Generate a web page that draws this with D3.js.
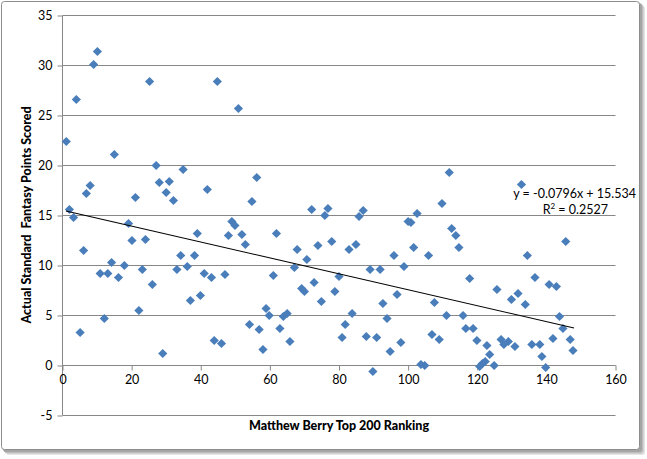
<!DOCTYPE html>
<html><head><meta charset="utf-8">
<script src="https://cdn.jsdelivr.net/npm/d3@7"></script>
<style>
html,body{margin:0;padding:0;background:#fff;}
svg{display:block;}
text{font-family:Lato, "Liberation Sans", sans-serif;}
</style></head>
<body><svg id="c" width="647" height="459"></svg>
<script>
// ---- data ----
const ranks = [1.1,2.0,3.2,4.0,5.1,6.1,6.9,8.0,9.0,10.1,10.9,12.1,13.1,14.2,15.0,16.2,17.9,19.1,20.1,21.1,22.1,23.1,24.0,25.2,26.0,27.1,28.0,29.0,30.0,30.9,32.1,33.1,34.2,34.9,36.1,37.0,38.2,39.0,39.9,41.0,41.9,43.1,43.9,44.8,46.0,47.0,48.0,49.0,49.9,50.9,51.9,52.9,54.1,54.8,56.2,56.9,58.0,58.9,59.8,61.0,61.9,62.9,63.9,65.0,65.8,67.1,67.9,69.2,70.0,70.7,72.1,72.8,73.9,74.9,75.9,76.8,77.9,78.8,80.0,80.9,81.8,82.9,83.8,84.9,85.8,87.0,87.9,89.0,89.8,90.9,91.9,92.7,93.9,94.8,95.9,96.8,97.9,98.8,100.0,100.8,101.6,102.6,103.7,104.8,105.9,106.9,107.6,109.0,109.8,111.1,111.9,112.6,113.8,114.7,115.9,116.7,117.8,118.8,119.9,120.7,121.5,122.3,122.8,123.6,124.9,125.7,126.9,127.7,129.0,129.9,130.9,131.8,132.8,133.9,134.5,135.8,136.7,138.1,138.7,139.8,140.8,141.9,142.9,143.8,144.8,145.6,146.9,147.7];
const points = [22.4,15.6,14.8,26.6,3.3,11.5,17.2,18.0,30.1,31.4,9.2,4.7,9.2,10.3,21.1,8.8,10.0,14.2,12.5,16.8,5.5,9.6,12.6,28.4,8.1,20.0,18.3,1.2,17.3,18.4,16.5,9.6,11.0,19.6,9.9,6.5,11.0,13.2,7.0,9.2,17.6,8.8,2.5,28.4,2.2,9.1,13.0,14.4,14.0,25.7,13.1,12.1,4.1,16.4,18.8,3.6,1.6,5.7,5.0,9.0,13.2,3.7,4.9,5.2,2.4,9.8,11.6,7.7,7.4,10.6,15.6,8.3,12.0,6.4,15.0,15.7,12.4,7.4,8.9,2.8,4.1,11.6,5.2,12.1,14.9,15.5,2.9,9.6,-0.6,2.8,9.6,6.2,4.7,1.4,11.0,7.1,2.3,9.9,14.4,14.3,11.8,15.2,0.1,0.0,11.0,3.1,6.3,2.6,16.2,5.0,19.3,13.7,13.0,11.8,5.0,3.7,8.7,3.7,2.5,-0.1,0.2,0.4,2.0,1.1,0.0,7.6,2.6,2.1,2.4,6.6,1.9,7.2,18.1,6.1,11.0,2.1,8.8,2.1,0.9,-0.2,8.1,2.7,7.9,4.9,3.7,12.4,2.6,1.5];
const xTicks = [0,20,40,60,80,100,120,140,160];
const yTicks = [-5,0,5,10,15,20,25,30,35];
const trendSlope = -0.0796, trendIntercept = 15.534;
const trendRange = [1,148];
const eqText = "y = -0.0796x + 15.534";
const r2Label = "0.2527";
const xTitle = "Matthew Berry Top 200 Ranking";
const yTitle = "Actual Standard  Fantasy Points Scored";

// ---- drawing ----
const svg = d3.select("#c");
// frame with shadow
const sh = svg.append("g");
[[5,"#e4e4e4"],[4,"#d2d2d2"],[3,"#bdbdbd"],[2,"#a5a5a5"]].forEach(([o,c])=>{
  sh.append("rect").attr("x",1+o).attr("y",1+o).attr("width",639).attr("height",449).attr("rx",3).attr("fill",c);
});
svg.append("rect").attr("x",1.5).attr("y",1.5).attr("width",638).attr("height",448).attr("rx",3)
  .attr("fill","#fff").attr("stroke","#8c8c8c").attr("stroke-width",1);

const x = d3.scaleLinear().domain([0,160]).range([62.5,615.5]);
const y = d3.scaleLinear().domain([-5,35]).range([415.5,15.5]);

// gridlines
svg.append("g").selectAll("line").data(yTicks).join("line")
  .attr("x1",x(0)).attr("x2",x(160)).attr("y1",d=>y(d)).attr("y2",d=>y(d))
  .attr("stroke","#878787").attr("stroke-width",1);

// y axis
const yAxis = d3.axisLeft(y).tickValues(yTicks).tickSize(5).tickPadding(5).tickFormat(d=>String(d));
const ya = svg.append("g").attr("transform",`translate(${x(0)},0)`).call(yAxis);
ya.select(".domain").attr("stroke","#878787").attr("d",`M0,${y(35)}V${y(-5)}`);
ya.selectAll(".tick line").attr("stroke","#878787");
ya.selectAll("text").attr("font-family","Lato, 'Liberation Sans', sans-serif").attr("font-size",12.5).attr("fill","#000");

// x axis at y=0
const xAxis = d3.axisBottom(x).tickValues(xTicks).tickSize(5).tickPadding(5).tickFormat(d=>String(d));
const xa = svg.append("g").attr("transform",`translate(0,${y(0)})`).call(xAxis);
xa.select(".domain").attr("stroke","#878787").attr("d",`M${x(0)},0H${x(160)}`);
xa.selectAll(".tick line").attr("stroke","#878787");
xa.selectAll("text").attr("font-family","Lato, 'Liberation Sans', sans-serif").attr("font-size",12.5).attr("fill","#000");

// points
const diamond = "M0,-4.6L4.6,0L0,4.6L-4.6,0Z";
svg.append("g").selectAll("path").data(ranks.map((r,i)=>[r,points[i]])).join("path")
  .attr("d",diamond).attr("transform",d=>`translate(${x(d[0])},${y(d[1])})`)
  .attr("fill","#4a7ebb");

// trendline
svg.append("line")
  .attr("x1",x(trendRange[0])).attr("y1",y(trendIntercept+trendSlope*trendRange[0]))
  .attr("x2",x(trendRange[1])).attr("y2",y(trendIntercept+trendSlope*trendRange[1]))
  .attr("stroke","#000").attr("stroke-width",1.1);

// equation
svg.append("text").attr("x",636).attr("y",198).attr("text-anchor","end")
  .attr("font-size",12.5).text(eqText);
const r2 = svg.append("text").attr("x",608).attr("y",214).attr("text-anchor","end").attr("font-size",12.5);
r2.append("tspan").text("R");
r2.append("tspan").attr("font-size",8).attr("dy",-5).text("2");
r2.append("tspan").attr("dy",5).text(" = " + r2Label);

// axis titles
svg.append("text").attr("x",x(80)).attr("y",430).attr("text-anchor","middle")
  .attr("font-size",12.5).attr("font-weight","900").text(xTitle);
svg.append("text").attr("transform","translate(31,215) rotate(-90)").attr("text-anchor","middle")
  .attr("font-size",12.5).attr("font-weight","900").style("white-space","pre").text(yTitle);
</script></body></html>
